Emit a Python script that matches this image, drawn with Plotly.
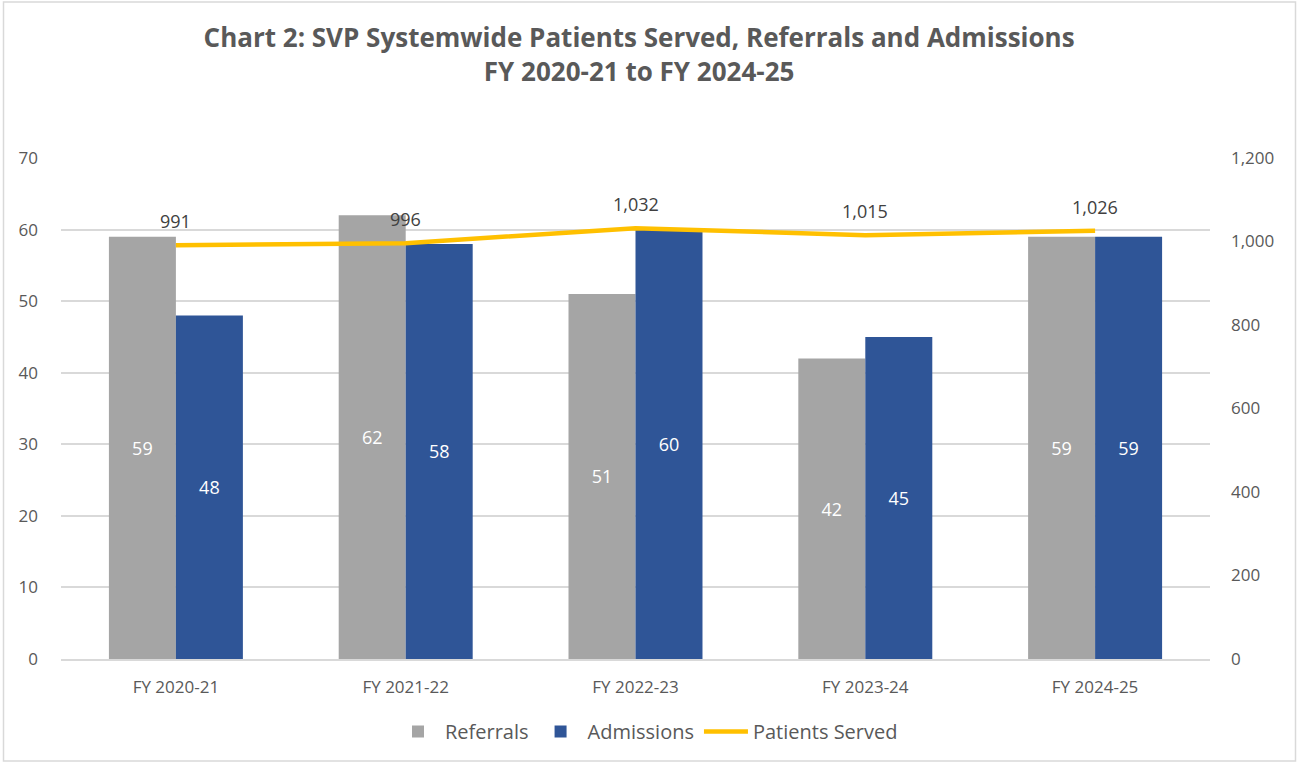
import plotly.graph_objects as go

# Fiscal years and series values
years = ["FY 2020-21", "FY 2021-22", "FY 2022-23", "FY 2023-24", "FY 2024-25"]
referrals = [59, 62, 51, 42, 59]
admissions = [48, 58, 60, 45, 59]
patients_served = [991, 996, 1032, 1015, 1026]

left_ticks = [0, 10, 20, 30, 40, 50, 60, 70]
right_ticks = [0, 200, 400, 600, 800, 1000, 1200]

FONT = "'Open Sans', Lato, sans-serif"
TXT = "#595959"
GRID = "#D9D9D9"

fig = go.Figure()

fig.add_trace(go.Bar(
    x=years, y=referrals, name="Referrals",
    marker=dict(color="#A5A5A5", line=dict(width=0)),
    text=[str(v) for v in referrals], textposition="inside",
    insidetextanchor="middle",
    textfont=dict(color="#FFFFFF", size=18, family=FONT),
))
fig.add_trace(go.Bar(
    x=years, y=admissions, name="Admissions",
    marker=dict(color="#2F5597", line=dict(width=0)),
    text=[str(v) for v in admissions], textposition="inside",
    insidetextanchor="middle",
    textfont=dict(color="#FFFFFF", size=18, family=FONT),
))
fig.add_trace(go.Scatter(
    x=years, y=patients_served, name="Patients Served", yaxis="y2",
    mode="lines",
    line=dict(color="#FFC000", width=4.5),
    cliponaxis=False,
))

# Value labels above the patients-served line
for yr, v in zip(years, patients_served):
    fig.add_annotation(
        x=yr, y=v, xref="x", yref="y2", text=f"{v:,}", showarrow=False,
        yshift=24, font=dict(color="#404040", size=18, family=FONT),
    )

# Outer chart border
fig.add_shape(type="rect", xref="paper", yref="paper",
              x0=(3.5 - 61) / 1149, x1=(1295.5 - 61) / 1149,
              y0=(659 - 761) / 501, y1=(659 - 2) / 501,
              line=dict(color="#D9D9D9", width=1.5), layer="below")

fig.update_layout(
    width=1299, height=763,
    margin=dict(l=61, r=89, t=158, b=104, autoexpand=False),
    paper_bgcolor="white", plot_bgcolor="white",
    font=dict(family=FONT, color=TXT, size=17),
    title=dict(
        text="<b>Chart 2: SVP Systemwide Patients Served, Referrals and Admissions<br>FY 2020-21 to FY 2024-25</b>",
        x=0.492, xanchor="center", y=0.938, yanchor="top",
        font=dict(family=FONT, size=26, color=TXT),
    ),
    barmode="group", bargap=0.417, bargroupgap=0,
    xaxis=dict(
        showgrid=False, showline=True, linecolor=GRID, linewidth=1.5,
        tickfont=dict(size=17, color=TXT), ticks="", ticklen=0,
        ticklabelstandoff=12, automargin=False,
    ),
    yaxis=dict(
        range=[0, 70], tickvals=left_ticks, showgrid=True, gridcolor=GRID,
        gridwidth=1.5, zeroline=False, showline=False, ticks="",
        tickfont=dict(size=17, color=TXT), ticklabelstandoff=22,
        automargin=False,
    ),
    yaxis2=dict(
        range=[0, 1200], tickvals=right_ticks, overlaying="y", side="right",
        showgrid=False, zeroline=False, showline=False, tickformat=",",
        tickfont=dict(size=17, color=TXT), ticklabelstandoff=20,
        automargin=False,
    ),
    legend=dict(
        orientation="h", x=0.51, xanchor="center",
        yref="container", y=1 - 712 / 763, yanchor="top",
        font=dict(size=20, color=TXT), traceorder="normal",
        itemwidth=44,
    ),
)

fig.write_html("out.html")
